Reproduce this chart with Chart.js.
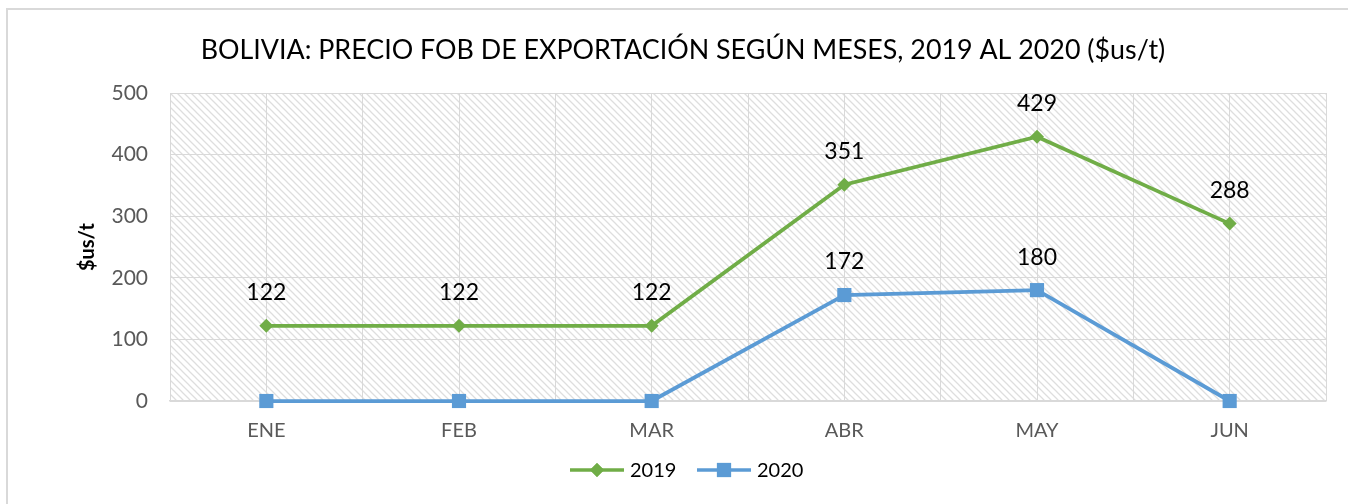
<!DOCTYPE html>
<html>
<head>
<meta charset="utf-8">
<script src="https://cdn.jsdelivr.net/npm/chart.js@4/dist/chart.umd.min.js"></script>
<style>
  body { margin: 0; background: #fff; }
  #marco { position: absolute; left: 6px; top: 8px; width: 1400px; height: 600px;
           border-top: 2px solid #d9d9d9; border-left: 2px solid #d9d9d9; }
  #wrap { position: absolute; left: 0; top: 0; width: 1348px; height: 504px; }
</style>
</head>
<body>
<div id="marco"></div>
<div id="wrap"><canvas id="grafico" width="1348" height="504"></canvas></div>
<script>
var meses = ["ENE", "FEB", "MAR", "ABR", "MAY", "JUN"];
var valores2019 = [122, 122, 122, 351, 429, 288];
var valores2020 = [0, 0, 0, 172, 180, 0];
var ticksY = [0, 100, 200, 300, 400, 500];
var titulo = "BOLIVIA: PRECIO FOB DE EXPORTACIÓN SEGÚN MESES, 2019 AL 2020 ($us/t)";

var verde = "#70AD47";
var azul = "#5B9BD5";
var fuente = "Lato, 'Open Sans', sans-serif";

// trama diagonal del area de trazado
function trama(ctx) {
  var c = document.createElement("canvas");
  c.width = 7; c.height = 7;
  var g = c.getContext("2d");
  g.strokeStyle = "#dedede";
  g.lineWidth = 1.3;
  g.beginPath();
  g.moveTo(-1, -1); g.lineTo(8, 8);
  g.moveTo(-1, 6); g.lineTo(1, 8);
  g.moveTo(6, -1); g.lineTo(8, 1);
  g.stroke();
  return ctx.createPattern(c, "repeat");
}

var extras = {
  id: "extras",
  beforeDraw: function(chart) {
    var ctx = chart.ctx, a = chart.chartArea;
    ctx.save();
    ctx.fillStyle = trama(ctx);
    ctx.fillRect(a.left, a.top, a.right - a.left, a.bottom - a.top);
    ctx.restore();
  },
  afterDatasetsDraw: function(chart) {
    var ctx = chart.ctx, a = chart.chartArea;
    ctx.save();
    // etiquetas de datos
    ctx.fillStyle = "#000";
    ctx.font = "23px " + fuente;
    ctx.textAlign = "center";
    ctx.textBaseline = "middle";
    chart.data.datasets.forEach(function(ds, i) {
      chart.getDatasetMeta(i).data.forEach(function(p, j) {
        var v = ds.data[j].y;
        if (v === 0) return;
        ctx.fillText(String(v), p.x, p.y - 33);
      });
    });
    // titulo
    var size = 30;
    ctx.font = size + "px " + fuente;
    var w = ctx.measureText(titulo).width;
    size = size * 965 / w;
    ctx.font = size + "px " + fuente;
    ctx.fillText(titulo, 683, 50);
    // titulo eje Y
    ctx.save();
    ctx.translate(88, (a.top + a.bottom) / 2);
    ctx.rotate(-Math.PI / 2);
    ctx.font = "bold 20px " + fuente;
    ctx.fillText("$us/t", 0, 0);
    ctx.restore();
    // leyenda
    var items = [
      { ds: chart.data.datasets[0], x: 570 },
      { ds: chart.data.datasets[1], x: 697 }
    ];
    var y = 470;
    ctx.font = "20px " + fuente;
    ctx.textAlign = "left";
    items.forEach(function(it) {
      ctx.strokeStyle = it.ds.borderColor;
      ctx.lineWidth = 3.5;
      ctx.beginPath();
      ctx.moveTo(it.x, y); ctx.lineTo(it.x + 54, y);
      ctx.stroke();
      ctx.fillStyle = it.ds.borderColor;
      Chart.helpers.drawPoint(ctx, {
        pointStyle: it.ds.pointStyle, radius: it.ds.pointRadius, borderWidth: 0
      }, it.x + 27, y);
      ctx.fill();
      ctx.fillStyle = "#000";
      ctx.fillText(it.ds.label, it.x + 60, y + 1);
    });
    ctx.restore();
  }
};

function puntos(vals) {
  return vals.map(function(v, i) { return { x: i, y: v }; });
}

new Chart(document.getElementById("grafico"), {
  type: "line",
  data: {
    datasets: [
      {
        label: "2019",
        data: puntos(valores2019),
        borderColor: verde,
        backgroundColor: verde,
        borderWidth: 3.75,
        pointStyle: "rectRot",
        pointRadius: 7,
        pointBorderWidth: 0,
        tension: 0,
        clip: false
      },
      {
        label: "2020",
        data: puntos(valores2020),
        borderColor: azul,
        backgroundColor: azul,
        borderWidth: 3.75,
        pointStyle: "rect",
        pointRadius: 10,
        pointBorderWidth: 0,
        tension: 0,
        clip: false
      }
    ]
  },
  options: {
    responsive: false,
    animation: false,
    layout: { padding: { top: 93, right: 22, left: 0, bottom: 0 } },
    plugins: {
      legend: { display: false },
      title: { display: false },
      tooltip: { enabled: false }
    },
    scales: {
      x: {
        type: "linear",
        min: -0.5,
        max: 5.5,
        afterFit: function(s) { s.height = 103; },
        afterBuildTicks: function(s) {
          var t = [];
          for (var k = 0; k <= 12; k++) t.push({ value: -0.5 + k * 0.5 });
          s.ticks = t;
        },
        ticks: {
          autoSkip: false,
          maxRotation: 0,
          padding: 18,
          color: "#595959",
          font: { family: fuente, size: 20 },
          callback: function(v) { return Number.isInteger(v) ? meses[v] : ""; }
        },
        grid: { color: "#d9d9d9", lineWidth: 1, drawTicks: false },
        border: { color: "#d9d9d9", width: 1.5 }
      },
      y: {
        min: 0,
        max: 500,
        afterFit: function(s) { s.width = 170; },
        afterBuildTicks: function(s) {
          s.ticks = ticksY.map(function(v) { return { value: v }; });
        },
        ticks: {
          padding: 22,
          color: "#595959",
          font: { family: fuente, size: 21 }
        },
        grid: { color: "#d9d9d9", lineWidth: 1, drawTicks: false },
        border: { display: false }
      }
    }
  },
  plugins: [extras]
});
</script>
</body>
</html>
